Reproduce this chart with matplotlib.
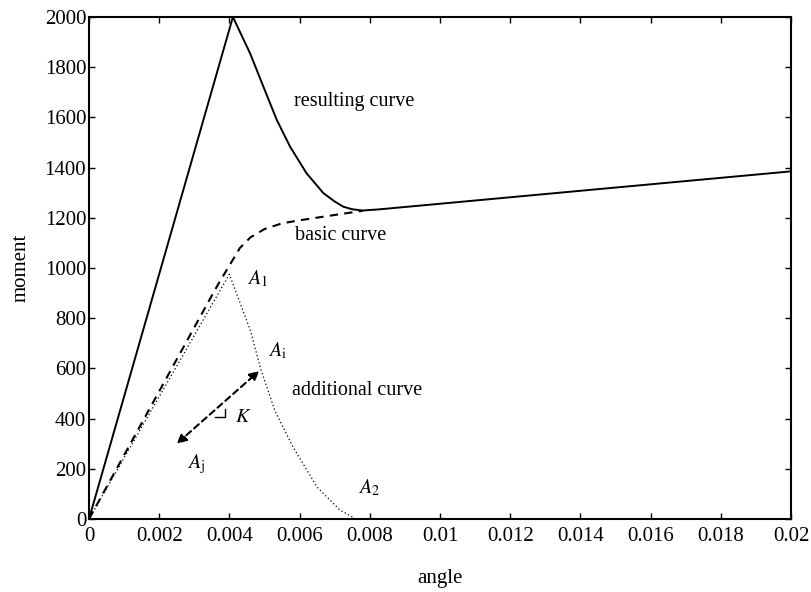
import matplotlib
matplotlib.use("Agg")
import matplotlib.pyplot as plt

plt.rcParams['font.family'] = ['Liberation Serif', 'DejaVu Serif']
plt.rcParams['mathtext.fontset'] = 'stix'

# resulting curve (solid)
x_res = [0, 0.0041, 0.00459, 0.00497, 0.00535, 0.00573, 0.0062, 0.00668,
         0.0070, 0.00725, 0.0075, 0.0078, 0.0083, 0.02]
y_res = [0, 2000, 1855, 1722, 1590, 1483, 1377, 1298,
         1265, 1244, 1234, 1229, 1234, 1385]

# basic curve (dashed)
x_basic = [0, 0.0034, 0.0037, 0.0040, 0.0043, 0.0046, 0.0050, 0.0055,
           0.0060, 0.0068, 0.0078]
y_basic = [0, 865, 940, 1010, 1080, 1122, 1155, 1178, 1190, 1207, 1228]

# additional curve (dotted)
x_add = [0, 0.0040, 0.0046, 0.0049, 0.0053, 0.0058, 0.0065, 0.00715, 0.0076]
y_add = [0, 975, 750, 594, 430, 290, 127, 36, 0]

# stiffness arrow K between A_j and A_i
arrow_tail = (0.0025, 300)
arrow_head = (0.00485, 590)
# small right-angle mark next to the arrow
mark_x = [0.0036, 0.00387, 0.00387]
mark_y = [406, 406, 440]

xticks = [0, 0.002, 0.004, 0.006, 0.008, 0.01, 0.012, 0.014, 0.016, 0.018, 0.02]
xticklabels = ['0', '0.002', '0.004', '0.006', '0.008', '0.01', '0.012',
               '0.014', '0.016', '0.018', '0.02']
yticks = [0, 200, 400, 600, 800, 1000, 1200, 1400, 1600, 1800, 2000]

labels = [
    ('resulting curve', 0.00585, 1665),
    ('basic curve', 0.00587, 1128),
    ('additional curve', 0.00578, 510),
    (r'$A_1$', 0.0045, 955),
    (r'$A_{\mathrm{i}}$', 0.0051, 670),
    (r'$K$', 0.00416, 406),
    (r'$A_{\mathrm{j}}$', 0.00279, 218),
    (r'$A_2$', 0.00766, 123),
]

fig = plt.figure(figsize=(8.12, 5.92), dpi=100)
ax = fig.add_axes([0.1096, 0.1233, 0.8645, 0.848])

ax.plot(x_res, y_res, color='black', lw=1.4)
ax.plot(x_basic, y_basic, color='black', lw=1.5, dashes=(4, 3))
ax.plot(x_add, y_add, color='black', lw=0.9, dashes=(1, 2))

ax.annotate('', xy=arrow_head, xytext=arrow_tail,
            arrowprops=dict(arrowstyle='<|-|>', color='black', lw=1.5,
                            linestyle=(0, (3, 2)), mutation_scale=14,
                            shrinkA=0, shrinkB=0))
ax.plot(mark_x, mark_y, color='black', lw=1.0)

for txt, x, y in labels:
    ax.text(x, y, txt, fontsize=14.5, va='center', ha='left', color='black')

ax.set_xlim(0, 0.02)
ax.set_ylim(0, 2000)
ax.set_xticks(xticks)
ax.set_xticklabels(xticklabels)
ax.set_yticks(yticks)
ax.tick_params(direction='in', top=True, right=True, length=4, width=1,
               labelsize=15, pad=6)
ax.tick_params(axis='y', pad=2)
for s in ax.spines.values():
    s.set_linewidth(1.5)

ax.set_xlabel('angle', fontsize=15, labelpad=16)
ax.set_ylabel('moment', fontsize=15, labelpad=10)

fig.savefig('out.png', dpi=100)
